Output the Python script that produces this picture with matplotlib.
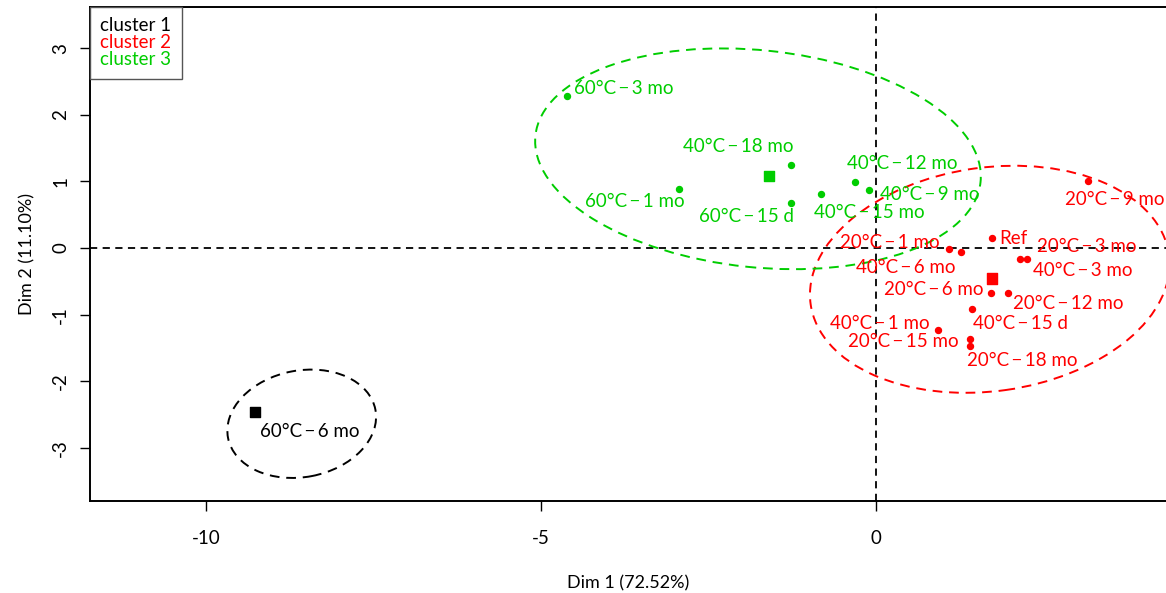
"""PCA individuals map with cluster ellipses."""

import matplotlib
matplotlib.use('Agg')
import matplotlib.pyplot as plt
from matplotlib.patches import Ellipse

plt.rcParams['font.family'] = ['Lato', 'DejaVu Sans']
plt.rcParams['axes.unicode_minus'] = False

BLACK = '#000000'
RED = '#FF0000'
GREEN = '#00CD00'
SEP = '\u2009−\u2009'

# cluster 1
c1_labels = ['60°C-6 mo']
c1_x = [-9.27]
c1_y = [-2.46]

# cluster 2
c2_labels = ['20°C-9 mo', 'Ref', '20°C-1 mo', '40°C-6 mo', '20°C-3 mo', '40°C-3 mo',
             '20°C-6 mo', '20°C-12 mo', '40°C-15 d', '40°C-1 mo', '20°C-15 mo', '20°C-18 mo']
c2_x = [3.16, 1.73, 1.09, 1.27, 2.15, 2.26, 1.72, 1.97, 1.43, 0.93, 1.40, 1.40]
c2_y = [1.00, 0.15, -0.02, -0.06, -0.16, -0.16, -0.67, -0.67, -0.91, -1.23, -1.37, -1.47]

# cluster 3
c3_labels = ['60°C-3 mo', '40°C-18 mo', '60°C-1 mo', '60°C-15 d',
             '40°C-15 mo', '40°C-12 mo', '40°C-9 mo']
c3_x = [-4.61, -1.27, -2.94, -1.27, -0.82, -0.31, -0.10]
c3_y = [2.28, 1.24, 0.89, 0.67, 0.81, 0.99, 0.87]

# cluster centres
centre_x = [-9.27, 1.73, -1.60]
centre_y = [-2.46, -0.46, 1.08]

# ellipses: centre x, centre y, width, height, angle
ell_cx = [-8.57, 1.70, -1.76]
ell_cy = [-2.64, -0.47, 1.34]
ell_w = [2.24, 5.40, 6.68]
ell_h = [1.60, 3.36, 3.26]
ell_ang = [11, 8, -6]

# label offsets in pixels (label centre relative to point)
c1_off = [(55, -20)]
c2_off = [(27, -18), (22, 0), (-59, 7), (-55, -15), (67, 12), (55, -12),
          (-57, 3), (60, -11), (49, -15), (-58, 6), (-66, -2), (53, -15)]
c3_off = [(57, 8), (-53, 19), (-44, -13), (-44, -13), (48, -18), (47, 19), (61, -4)]

fig = plt.figure(figsize=(11.66, 5.93), dpi=100)
ax = fig.add_axes([90 / 1166, 1 - 501 / 593, 1 - 90 / 1166, (501 - 7) / 593])
ax.set_xlim(-11.73, 4.33)
ax.set_ylim(-3.80, 3.62)

ax.axhline(0, color='black', ls=(0, (4, 3)), lw=1.3, zorder=1)
ax.axvline(0, color='black', ls=(0, (4, 3)), lw=1.3, zorder=1)

colors = [BLACK, RED, GREEN]
for i, col in enumerate(colors):
    ax.add_patch(Ellipse((ell_cx[i], ell_cy[i]), ell_w[i], ell_h[i], angle=ell_ang[i],
                         fill=False, edgecolor=col, ls=(0, (5, 3.5)), lw=1.4, zorder=2))

for xs, ys, labs, offs, col in [(c2_x, c2_y, c2_labels, c2_off, RED),
                                (c3_x, c3_y, c3_labels, c3_off, GREEN),
                                (c1_x, c1_y, c1_labels, c1_off, BLACK)]:
    if col != BLACK:
        ax.plot(xs, ys, 'o', color=col, ms=4.3, zorder=3)
    for x, y, lab, off in zip(xs, ys, labs, offs):
        ax.annotate(lab.replace('-', SEP), (x, y), xytext=off, textcoords='offset pixels',
                    ha='center', va='center', color=col, fontsize=13.5, zorder=4)

ax.scatter(centre_x, centre_y, marker='s', c=colors, s=55, zorder=3)

handles = [plt.Line2D([], [], ls='none') for _ in colors]
leg = ax.legend(handles, ['cluster 1', 'cluster 2', 'cluster 3'], loc='upper left',
                handlelength=0, handletextpad=0, labelcolor=colors, fontsize=13.5,
                fancybox=False, borderaxespad=0, framealpha=1, edgecolor='#555555',
                labelspacing=0.0, borderpad=0.55)
leg.get_frame().set_linewidth(1.0)

ax.set_xticks([-10, -5, 0])
ax.set_yticks([-3, -2, -1, 0, 1, 2, 3])
ax.tick_params(direction='out', length=7, width=1.0, labelsize=13.5, pad=8)
ax.tick_params(axis='x', pad=14)
for lab in ax.get_yticklabels():
    lab.set_rotation(90)
    lab.set_va('center')
ax.spines['right'].set_visible(False)
for s in ['left', 'bottom', 'top']:
    ax.spines[s].set_linewidth(1.4)

ax.set_xlabel('Dim 1 (72.52%)', fontsize=13, labelpad=20)
ax.set_ylabel('Dim 2 (11.10%)', fontsize=13, labelpad=12)

fig.savefig('out.png', dpi=100)
